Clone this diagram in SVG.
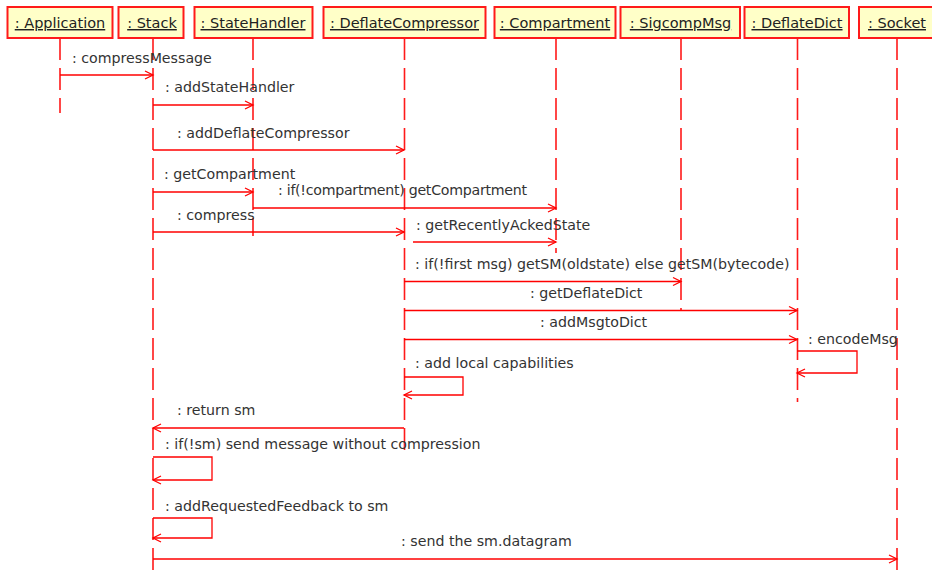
<svg xmlns="http://www.w3.org/2000/svg" width="932" height="572" viewBox="0 0 932 572">
<defs>
<marker id="arr" markerUnits="userSpaceOnUse" markerWidth="12" markerHeight="12" viewBox="-10 -6 12 12" refX="0" refY="0" orient="auto">
<path d="M-8,-4 L0,0 L-8,4" fill="none" stroke="#ff0000" stroke-width="1.3"/>
</marker>
</defs>
<style>
.box{fill:#ffffc8;stroke:#ff1a1a;stroke-width:2}
.hd{font-family:"DejaVu Sans","Liberation Sans",sans-serif;font-size:14.5px;fill:#222;text-anchor:middle;text-decoration:underline}
.life{stroke:#ff1a1a;stroke-width:1.6;stroke-dasharray:22 8;fill:none}
.msg{stroke:#ff0000;stroke-width:1.3;fill:none;marker-end:url(#arr)}
.lbl{font-family:"DejaVu Sans","Liberation Sans",sans-serif;font-size:14.2px;fill:#333}
</style>
<rect width="932" height="572" fill="#ffffff"/>
<g id="node-application">
<rect class="box" x="7.5" y="7" width="105" height="31"/>
<text class="hd" x="60" y="28">: Application</text>
<line class="life" x1="60" y1="38" x2="60" y2="113"/>
</g>
<g id="node-stack">
<rect class="box" x="118.5" y="7" width="65" height="31"/>
<text class="hd" x="152" y="28">: Stack</text>
<line class="life" x1="153" y1="38" x2="153" y2="572"/>
</g>
<g id="node-statehandler">
<rect class="box" x="194.5" y="7" width="118" height="31"/>
<text class="hd" x="253" y="28">: StateHandler</text>
<line class="life" x1="253" y1="38" x2="253" y2="236"/>
</g>
<g id="node-deflatecompressor">
<rect class="box" x="323.5" y="7" width="162" height="31"/>
<text class="hd" x="404.5" y="28">: DeflateCompressor</text>
<line class="life" x1="404.5" y1="38" x2="404.5" y2="457"/>
</g>
<g id="node-compartment">
<rect class="box" x="494.5" y="7" width="121" height="31"/>
<text class="hd" x="555" y="28">: Compartment</text>
<line class="life" x1="556" y1="38" x2="556" y2="253"/>
</g>
<g id="node-sigcompmsg">
<rect class="box" x="620.5" y="7" width="119.5" height="31"/>
<text class="hd" x="680.5" y="28">: SigcompMsg</text>
<line class="life" x1="681" y1="38" x2="681" y2="311"/>
</g>
<g id="node-deflatedict">
<rect class="box" x="744.5" y="7" width="104.5" height="31"/>
<text class="hd" x="797" y="28">: DeflateDict</text>
<line class="life" x1="797.5" y1="38" x2="797.5" y2="402"/>
</g>
<g id="node-socket">
<rect class="box" x="859" y="7" width="80" height="31"/>
<text class="hd" x="897" y="28">: Socket</text>
<line class="life" x1="897" y1="38" x2="897" y2="572"/>
</g>
<g id="connectors">
<path class="msg" d="M60,75 H153"/>
<path class="msg" d="M153,105 H253"/>
<path class="msg" d="M153,150 H404"/>
<path class="msg" d="M153,192 H253"/>
<path class="msg" d="M253,208 H556"/>
<path class="msg" d="M153,232 H404"/>
<path class="msg" d="M413,242 H556"/>
<path class="msg" d="M404,281.5 H681"/>
<path class="msg" d="M404,310.5 H797"/>
<path class="msg" d="M404,339.5 H797"/>
<path class="msg" d="M797,351 H857 V373 H797"/>
<path class="msg" d="M404,377 H463 V395 H404"/>
<path class="msg" d="M404,428 H153"/>
<path class="msg" d="M153,457 H212 V480 H153"/>
<path class="msg" d="M153,518 H212 V538 H153"/>
<path class="msg" d="M153,559 H897"/>
</g>
<g id="labels">
<text class="lbl" x="72" y="63">: compressMessage</text>
<text class="lbl" x="165" y="92">: addStateHandler</text>
<text class="lbl" x="177" y="138">: addDeflateCompressor</text>
<text class="lbl" x="164" y="179">: getCompartment</text>
<text class="lbl" x="278" y="195" textLength="249">: if(!compartment) getCompartment</text>
<text class="lbl" x="177" y="220">: compress</text>
<text class="lbl" x="416" y="230">: getRecentlyAckedState</text>
<text class="lbl" x="415" y="269">: if(!first msg) getSM(oldstate) else getSM(bytecode)</text>
<text class="lbl" x="530" y="298">: getDeflateDict</text>
<text class="lbl" x="540" y="327">: addMsgtoDict</text>
<text class="lbl" x="808" y="344">: encodeMsg</text>
<text class="lbl" x="415" y="368">: add local capabilities</text>
<text class="lbl" x="177" y="415">: return sm</text>
<text class="lbl" x="165" y="449">: if(!sm) send message without compression</text>
<text class="lbl" x="165" y="511">: addRequestedFeedback to sm</text>
<text class="lbl" x="401" y="546">: send the sm.datagram</text>
</g>
</svg>
